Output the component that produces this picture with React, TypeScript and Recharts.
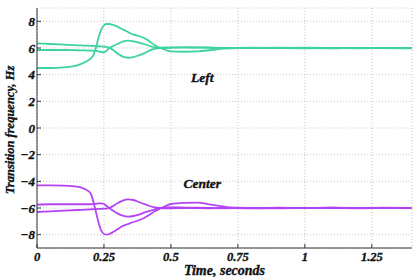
import { LineChart, Line, XAxis, YAxis, CartesianGrid, ReferenceDot } from 'recharts';

const time = [0, 0.05, 0.1, 0.15, 0.18, 0.2, 0.21, 0.22, 0.23, 0.24, 0.25, 0.26, 0.27, 0.28, 0.3, 0.32, 0.34, 0.36, 0.38, 0.4, 0.42, 0.44, 0.46, 0.48, 0.5, 0.55, 0.6, 0.65, 0.7, 0.75, 0.8, 0.9, 1.0, 1.1, 1.2, 1.3, 1.4];

// left group (green)
const left1 = [4.5, 4.5, 4.55, 4.7, 4.95, 5.2, 5.45, 6.0, 6.8, 7.4, 7.7, 7.8, 7.8, 7.75, 7.6, 7.4, 7.2, 7.0, 6.9, 6.75, 6.5, 6.2, 6.0, 5.85, 5.75, 5.72, 5.75, 5.85, 5.95, 6.0, 6.02, 6.0, 5.98, 6.0, 5.98, 6.0, 5.97];
const left2 = [5.85, 5.85, 5.85, 5.83, 5.82, 5.8, 5.8, 5.78, 5.75, 5.7, 5.68, 5.8, 6.0, 6.1, 6.3, 6.48, 6.55, 6.5, 6.4, 6.3, 6.15, 6.05, 6.0, 6.0, 6.02, 6.05, 6.05, 6.03, 6.0, 5.99, 6.0, 6.02, 6.0, 5.98, 6.01, 5.99, 6.0];
const left3 = [6.35, 6.3, 6.25, 6.2, 6.18, 6.16, 6.15, 6.14, 6.13, 6.12, 6.1, 6.08, 6.02, 5.9, 5.6, 5.35, 5.27, 5.32, 5.45, 5.6, 5.8, 5.95, 6.02, 6.05, 6.05, 6.05, 6.03, 6.02, 6.0, 6.01, 5.99, 6.0, 6.02, 6.0, 5.99, 6.01, 6.0];

// center group (purple)
const center1 = [-4.3, -4.3, -4.32, -4.4, -4.6, -4.9, -5.5, -6.3, -7.1, -7.7, -7.95, -8.0, -7.95, -7.85, -7.6, -7.35, -7.2, -7.05, -6.92, -6.75, -6.5, -6.25, -6.05, -5.85, -5.7, -5.62, -5.6, -5.75, -5.9, -6.0, -6.02, -5.98, -6.0, -5.97, -6.01, -5.98, -6.0];
const center2 = [-5.75, -5.72, -5.72, -5.72, -5.72, -5.72, -5.7, -5.68, -5.66, -5.65, -5.7, -5.85, -6.0, -6.15, -6.4, -6.58, -6.65, -6.6, -6.5, -6.35, -6.22, -6.1, -6.0, -5.95, -5.95, -5.97, -6.0, -6.02, -6.0, -5.98, -6.0, -6.02, -5.99, -6.0, -6.02, -5.99, -6.0];
const center3 = [-6.3, -6.25, -6.2, -6.15, -6.12, -6.1, -6.09, -6.08, -6.07, -6.06, -6.05, -6.05, -6.0, -5.9, -5.65, -5.45, -5.36, -5.4, -5.55, -5.7, -5.85, -5.95, -6.0, -6.02, -6.02, -6.0, -5.98, -6.0, -6.02, -6.0, -5.99, -6.01, -6.0, -5.98, -6.0, -6.01, -5.99];

const xTicks = [0, 0.25, 0.5, 0.75, 1, 1.25];
const yTicks = [-8, -6, -4, -2, 0, 2, 4, 6, 8];

const data = time.map((t, i) => ({
  t,
  l1: left1[i], l2: left2[i], l3: left3[i],
  c1: center1[i], c2: center2[i], c3: center3[i],
}));

const GREEN = '#3dd49b';
const PURPLE = '#b443f3';
const AXIS = '#333';
const INK = '#111';
// bold italic serif, with a hairline stroke so it reads as heavy as the original
const font = {
  fontFamily: '"Liberation Serif", "Times New Roman", serif',
  fontWeight: 700,
  fontStyle: 'italic' as const,
  stroke: INK,
  strokeWidth: 0.35,
};

const fmtY = (v: number) => (v < 0 ? `\u2212${Math.abs(v)}` : `${v}`);

// bottom: tickSize 4 + tickMargin 0 -> label sits 4px below the axis line
const BottomTick = ({ x, y, payload }: any) => (
  <g>
    <line x1={x} x2={x} y1={y - 4} y2={y - 8} stroke={AXIS} />
    <text x={x} y={y} dy="0.68em" textAnchor="middle" fontSize={12.5} fill={INK} {...font}>{payload.value}</text>
  </g>
);
// left: tickSize 1 + tickMargin 1 -> label ends 2px left of the axis line
const LeftTick = ({ x, y, payload }: any) => (
  <g>
    <line x1={x + 2} x2={x + 6} y1={y} y2={y} stroke={AXIS} />
    <text x={x} y={y} dy="0.355em" textAnchor="end" fontSize={13} fill={INK} {...font}>{fmtY(payload.value)}</text>
  </g>
);
const TopTick = ({ x, y }: any) => <line x1={x} x2={x} y1={y + 6} y2={y + 10} stroke={AXIS} />;
const RightTick = ({ x, y }: any) => <line x1={x - 6} x2={x - 10} y1={y} y2={y} stroke={AXIS} />;

const YTitle = ({ viewBox }: any) => {
  const cx = viewBox.x + 10;
  const cy = viewBox.y + viewBox.height / 2 + 2;
  return (
    <text x={cx} y={cy} transform={`rotate(-90 ${cx} ${cy})`} textAnchor="middle" dy="0.35em" fontSize={12.5} fill={INK} {...font}>
      Transition frequency, Hz
    </text>
  );
};

export default function App() {
  return (
    <div style={{ position: 'absolute', left: 0, top: 0, background: '#fff' }}>
      <LineChart width={415} height={277} data={data} margin={{ top: 8, right: 3, bottom: 0, left: 0 }}>
        <CartesianGrid stroke="#c4c4c4" strokeDasharray="1 2" />
        <XAxis
          dataKey="t" type="number" domain={[0, 1.4]} ticks={xTicks} allowDataOverflow
          height={29} tickSize={4} tickMargin={0} tickLine={false} axisLine={{ stroke: AXIS }}
          tick={<BottomTick />}
          label={{ value: 'Time, seconds', position: 'insideBottom', offset: 2, fontSize: 14, fill: INK, ...font }}
        />
        <XAxis
          xAxisId="top" orientation="top" dataKey="t" type="number" domain={[0, 1.4]} ticks={xTicks} allowDataOverflow
          height={0} tickSize={4} tickMargin={2} tickLine={false} axisLine={{ stroke: AXIS }} tick={<TopTick />}
        />
        <YAxis
          type="number" domain={[-9, 9]} ticks={yTicks} allowDataOverflow
          width={37} tickSize={1} tickMargin={1} tickLine={false} axisLine={{ stroke: AXIS }}
          tick={<LeftTick />} label={<YTitle />}
        />
        <YAxis
          yAxisId="right" orientation="right" type="number" domain={[-9, 9]} ticks={yTicks} allowDataOverflow
          width={0} tickSize={4} tickMargin={2} tickLine={false} axisLine={{ stroke: AXIS }} tick={<RightTick />}
        />
        <Line type="monotone" dataKey="l1" stroke={GREEN} strokeWidth={1.8} dot={false} isAnimationActive={false} />
        <Line type="monotone" dataKey="l2" stroke={GREEN} strokeWidth={1.8} dot={false} isAnimationActive={false} />
        <Line type="monotone" dataKey="l3" stroke={GREEN} strokeWidth={1.8} dot={false} isAnimationActive={false} />
        <Line type="monotone" dataKey="c1" stroke={PURPLE} strokeWidth={1.8} dot={false} isAnimationActive={false} />
        <Line type="monotone" dataKey="c2" stroke={PURPLE} strokeWidth={1.8} dot={false} isAnimationActive={false} />
        <Line type="monotone" dataKey="c3" stroke={PURPLE} strokeWidth={1.8} dot={false} isAnimationActive={false} />
        <ReferenceDot x={0.617} y={3.78} r={0} fill="none" stroke="none"
          label={{ value: 'Left', position: 'center', fontSize: 13.5, fill: INK, ...font }} />
        <ReferenceDot x={0.617} y={-4.12} r={0} fill="none" stroke="none"
          label={{ value: 'Center', position: 'center', fontSize: 13.5, fill: INK, ...font }} />
      </LineChart>
    </div>
  );
}
